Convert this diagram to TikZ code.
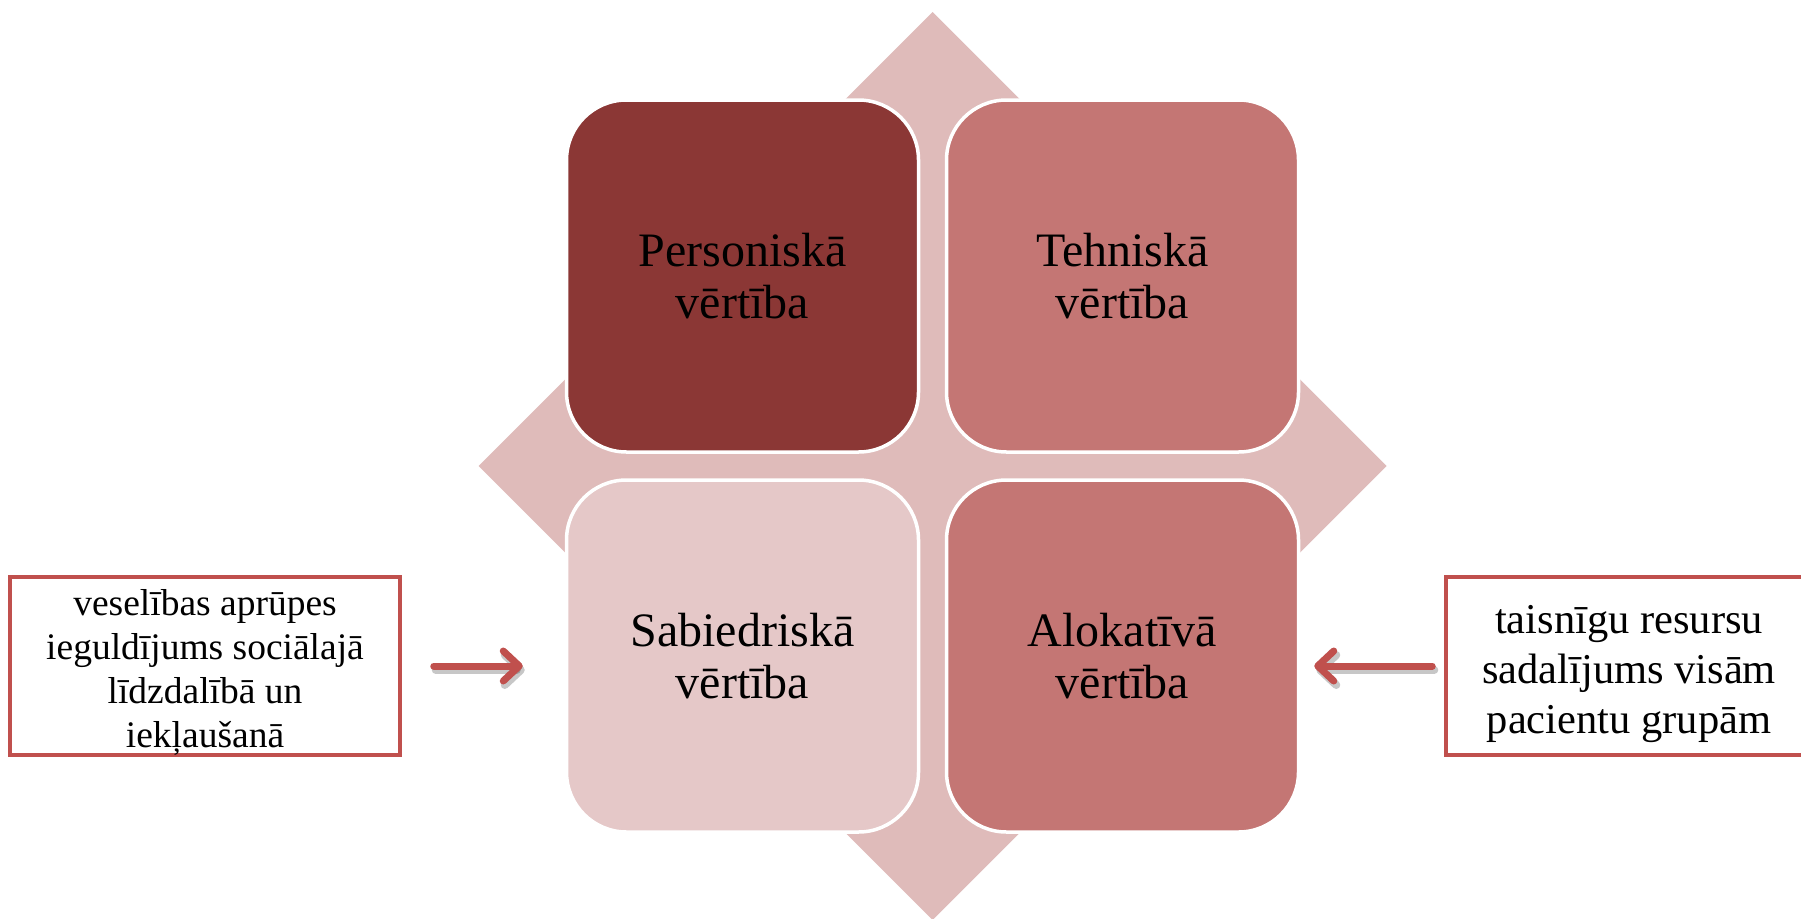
\documentclass[tikz,border=0pt]{standalone}
\usepackage{fontspec}
\setmainfont{Liberation Serif}
\usetikzlibrary{arrows.meta}
\definecolor{darkq}{HTML}{8B3735}
\definecolor{midq}{HTML}{C47674}
\definecolor{lightq}{HTML}{E5C8C8}
\definecolor{diamq}{HTML}{DFBBBA}
\definecolor{redline}{HTML}{C0504D}
\tikzset{
  quad/.style={rectangle, rounded corners=60pt, draw=white, line width=3.5pt,
    minimum width=352pt, minimum height=352pt, inner sep=0pt, align=center,
    font=\fontsize{48}{52}\selectfont, text=black},
  tbox/.style={rectangle, draw=redline, line width=3.5pt, fill=white,
    minimum height=178pt, inner sep=0pt},
  ttext/.style={inner sep=0pt, align=center, text=black},
  arr/.style={draw=redline, line width=7pt, line cap=round,
    -{Straight Barb[length=16pt, width=30pt, line cap=round, line join=round]}},
  arrshadow/.style={draw=black, opacity=0.22, line width=8pt, line cap=round,
    -{Straight Barb[length=16pt, width=30pt, line cap=round, line join=round]}}
}
\begin{document}
\begin{tikzpicture}[x=1pt,y=-1pt]
\useasboundingbox (0,0) rectangle (1801,918);
\clip (0,0) rectangle (1801,918);
\fill[white] (0,0) rectangle (1801,918);
% background diamond
\fill[diamq] (932.5,12) -- (1386.5,466) -- (932.5,920) -- (478.5,466) -- cycle;
% quadrants
\node[quad, fill=darkq] (per) at (742.5,276) {Personiskā\\vērtība};
\node[quad, fill=midq] (teh) at (1122.5,276) {Tehniskā\\vērtība};
\node[quad, fill=lightq] (sab) at (742.5,656) {Sabiedriskā\\vērtība};
\node[quad, fill=midq] (alo) at (1122.5,656) {Alokatīvā\\vērtība};
% text boxes
\node[tbox, minimum width=390pt] (lt) at (205,666) {};
\node[ttext, font=\fontsize{37.5}{44}\selectfont] (ltx) at ([yshift=-6pt]lt.center)
  {veselības aprūpes\\ieguldījums sociālajā\\līdzdalībā un\\iekļaušanā};
\node[tbox, minimum width=366pt] (rt) at (1629,666) {};
\node[ttext, font=\fontsize{42.5}{50}\selectfont] (rtx) at ([yshift=-8pt]rt.center)
  {taisnīgu resursu\\sadalījums visām\\pacientu grupām};
% arrows
\path (lt.east) ++(32,0) coordinate (a1s);
\path (a1s -| sab.west) ++(-42,0) coordinate (a1e);
\path (rt.west) ++(-12,0) coordinate (a2s);
\path (a2s -| alo.east) ++(14,0) coordinate (a2e);
\draw[arrshadow] ([shift={(2,4)}]a1s) -- ([shift={(2,4)}]a1e);
\draw[arrshadow] ([shift={(2,4)}]a2s) -- ([shift={(2,4)}]a2e);
\draw[arr] (a1s) -- (a1e);
\draw[arr] (a2s) -- (a2e);
\end{tikzpicture}
\end{document}
